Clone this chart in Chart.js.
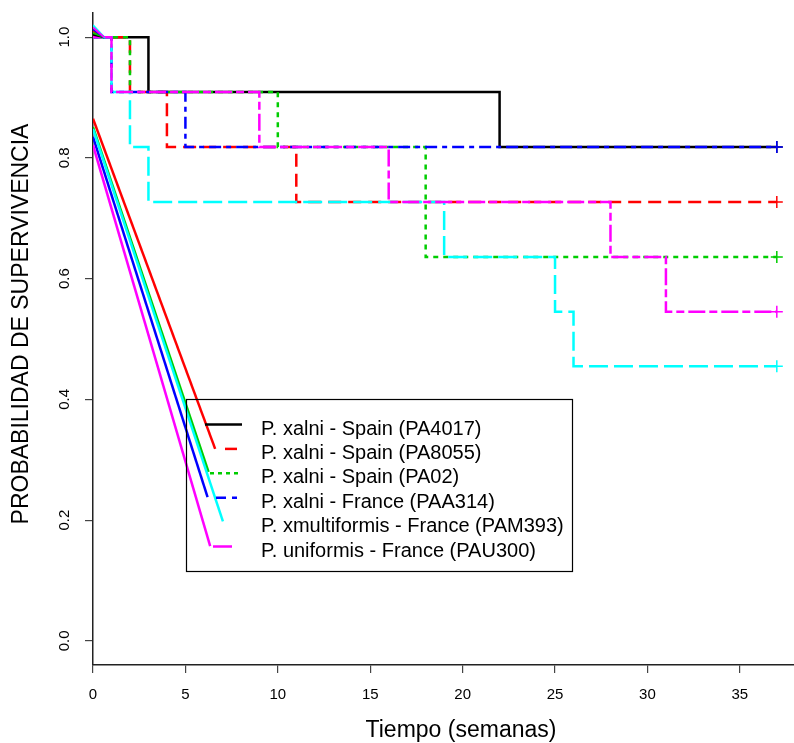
<!DOCTYPE html>
<html>
<head>
<meta charset="utf-8">
<script src="https://cdn.jsdelivr.net/npm/chart.js@4.4.0/dist/chart.umd.min.js"></script>
<style>
  html, body { margin: 0; padding: 0; background: #fff; }
  #wrap { width: 794px; height: 743px; }
</style>
</head>
<body>
<div id="wrap"><canvas id="chart" width="794" height="743"></canvas></div>
<script>
// Kaplan-Meier curves, values
const seriesNames = [
    'P. xalni - Spain (PA4017)',
    'P. xalni - Spain (PA8055)',
    'P. xalni - Spain (PA02)',
    'P. xalni - France (PAA314)',
    'P. xmultiformis - France (PAM393)',
    'P. uniformis - France (PAU300)'
];
const seriesColors = ['#000000', '#ff0000', '#00cd00', '#0000ff', '#00ffff', '#ff00ff'];
const seriesDash = [[], [13, 7], [5, 5], [5, 5, 12, 5], [19, 6], [8, 4, 17, 4]];

// event times (weeks) and survival after each step
const stepTimes = [
    [0, 3, 22, 37],
    [0, 2, 4, 11, 37],
    [0, 2, 10, 18, 37],
    [0, 1, 5, 37],
    [0, 1, 2, 3, 19, 25, 26, 37],
    [0, 1, 9, 16, 28, 31, 37]
];
const stepSurv = [
    [1.0, 0.909, 0.818, 0.818],
    [1.0, 0.909, 0.818, 0.727, 0.727],
    [1.0, 0.909, 0.818, 0.636, 0.636],
    [1.0, 0.909, 0.818, 0.818],
    [1.0, 0.909, 0.818, 0.727, 0.636, 0.545, 0.455, 0.455],
    [1.0, 0.909, 0.818, 0.727, 0.636, 0.545, 0.545]
];

// stray straight lines running from the y axis down into the legend
const diagStartY = [null, 0.865, 0.851, 0.835, 0.848, 0.821];
const diagEndX = [null, 6.61, 6.25, 6.2, 7.03, 6.34];
const diagEndY = [null, 0.318, 0.280, 0.238, 0.198, 0.157];

// short lead-in strokes at the top left corner
const leadStartY = [1.004, 1.010, 1.007, 1.013, 1.020, 1.016];
const leadEndX = 0.6;

const xTickValues = [0, 5, 10, 15, 20, 25, 30, 35];
const yTickValues = [0, 0.2, 0.4, 0.6, 0.8, 1.0];
const xTitle = 'Tiempo (semanas)';
const yTitle = 'PROBABILIDAD DE SUPERVIVENCIA';

const datasets = [];
seriesNames.forEach((name, i) => {
    const pts = stepTimes[i].map((t, k) => ({ x: t, y: stepSurv[i][k] }));
    const last = pts.length - 1;
    datasets.push({
        label: name,
        data: pts,
        stepped: 'before',
        borderColor: seriesColors[i],
        borderWidth: 2.5,
        borderDash: seriesDash[i],
        pointStyle: 'cross',
        pointRadius: pts.map((p, k) => (k === last ? 6 : 0)),
        pointBorderWidth: 1.5,
        pointBorderColor: seriesColors[i],
        fill: false,
        order: 20 - i
    });
    datasets.push({
        label: name + ' lead',
        data: [{ x: 0, y: leadStartY[i] }, { x: leadEndX, y: 1.0 }],
        borderColor: seriesColors[i],
        borderWidth: 2,
        pointRadius: 0,
        fill: false,
        order: 10 - i
    });
    if (diagStartY[i] !== null) {
        datasets.push({
            label: name + ' diag',
            data: [{ x: 0, y: diagStartY[i] }, { x: diagEndX[i], y: diagEndY[i] }],
            borderColor: seriesColors[i],
            borderWidth: 2.5,
            pointRadius: 0,
            fill: false,
            order: 10 - i
        });
    }
});

// legend drawn by hand: box, sample strokes, labels
const legendSamples = [
    { x0: 205, x1: 242, dash: [] },
    { x0: 225, x1: 237, dash: [] },
    { x0: 210, x1: 239, dash: [4, 4] },
    { x0: 216, x1: 237, dash: [10, 6, 5, 6] },
    null,
    { x0: 213, x1: 232, dash: [] }
];

const kmLegend = {
    id: 'kmLegend',
    afterDatasetsDraw(chart) {
        const ctx = chart.ctx;
        ctx.save();
        ctx.strokeStyle = '#000';
        ctx.lineWidth = 1.2;
        ctx.strokeRect(186.5, 399.5, 386, 172);
        ctx.font = '20px "Liberation Sans", Arial, sans-serif';
        ctx.fillStyle = '#000';
        ctx.textBaseline = 'alphabetic';
        seriesNames.forEach((name, i) => {
            const y = 424.5 + i * 24.4;
            const s = legendSamples[i];
            if (s) {
                ctx.beginPath();
                ctx.setLineDash(s.dash);
                ctx.strokeStyle = seriesColors[i];
                ctx.lineWidth = 2.5;
                ctx.moveTo(s.x0, y);
                ctx.lineTo(s.x1, y);
                ctx.stroke();
            }
            ctx.setLineDash([]);
            ctx.fillText(name, 261, y + 10);
        });
        ctx.restore();
    }
};

// axis titles, placed where the original has them
const axisTitles = {
    id: 'axisTitles',
    afterDraw(chart) {
        const ctx = chart.ctx;
        ctx.save();
        ctx.font = '23px "Liberation Sans", Arial, sans-serif';
        ctx.fillStyle = '#000';
        ctx.textAlign = 'center';
        ctx.textBaseline = 'middle';
        ctx.fillText(xTitle, 461, 731);
        ctx.translate(22, 324);
        ctx.rotate(-Math.PI / 2);
        ctx.fillText(yTitle, 0, 0);
        ctx.restore();
    }
};

Chart.defaults.font.family = '"Liberation Sans", Arial, sans-serif';

new Chart(document.getElementById('chart').getContext('2d'), {
    type: 'line',
    data: { datasets: datasets },
    options: {
        responsive: false,
        animation: false,
        layout: { autoPadding: false, padding: { top: 13, left: 0, right: 0, bottom: 0 } },
        plugins: { legend: { display: false }, tooltip: { enabled: false } },
        scales: {
            x: {
                type: 'linear',
                min: 0,
                max: 37.93,
                afterBuildTicks: s => { s.ticks = xTickValues.map(v => ({ value: v })); },
                afterFit: s => { s.height = 78; s.paddingLeft = 0; s.paddingRight = 0; },
                ticks: { autoSkip: false, maxRotation: 0, padding: 13, color: '#000', font: { size: 15 } },
                grid: { drawOnChartArea: false, drawTicks: true, tickLength: 8, color: '#444', lineWidth: 1.2 },
                border: { display: true, color: '#222', width: 1.5 }
            },
            y: {
                type: 'linear',
                min: -0.04,
                max: 1.04,
                afterBuildTicks: s => { s.ticks = yTickValues.map(v => ({ value: v })); },
                afterFit: s => { s.width = 93; s.paddingTop = 0; s.paddingBottom = 0; },
                ticks: {
                    autoSkip: false, minRotation: 90, maxRotation: 90, crossAlign: 'center',
                    padding: 10, color: '#000', font: { size: 15 },
                    callback: v => Number(v).toFixed(1)
                },
                grid: { drawOnChartArea: false, drawTicks: true, tickLength: 8, color: '#444', lineWidth: 1.2 },
                border: { display: true, color: '#222', width: 1.5 }
            }
        }
    },
    plugins: [kmLegend, axisTitles]
});
</script>
</body>
</html>
